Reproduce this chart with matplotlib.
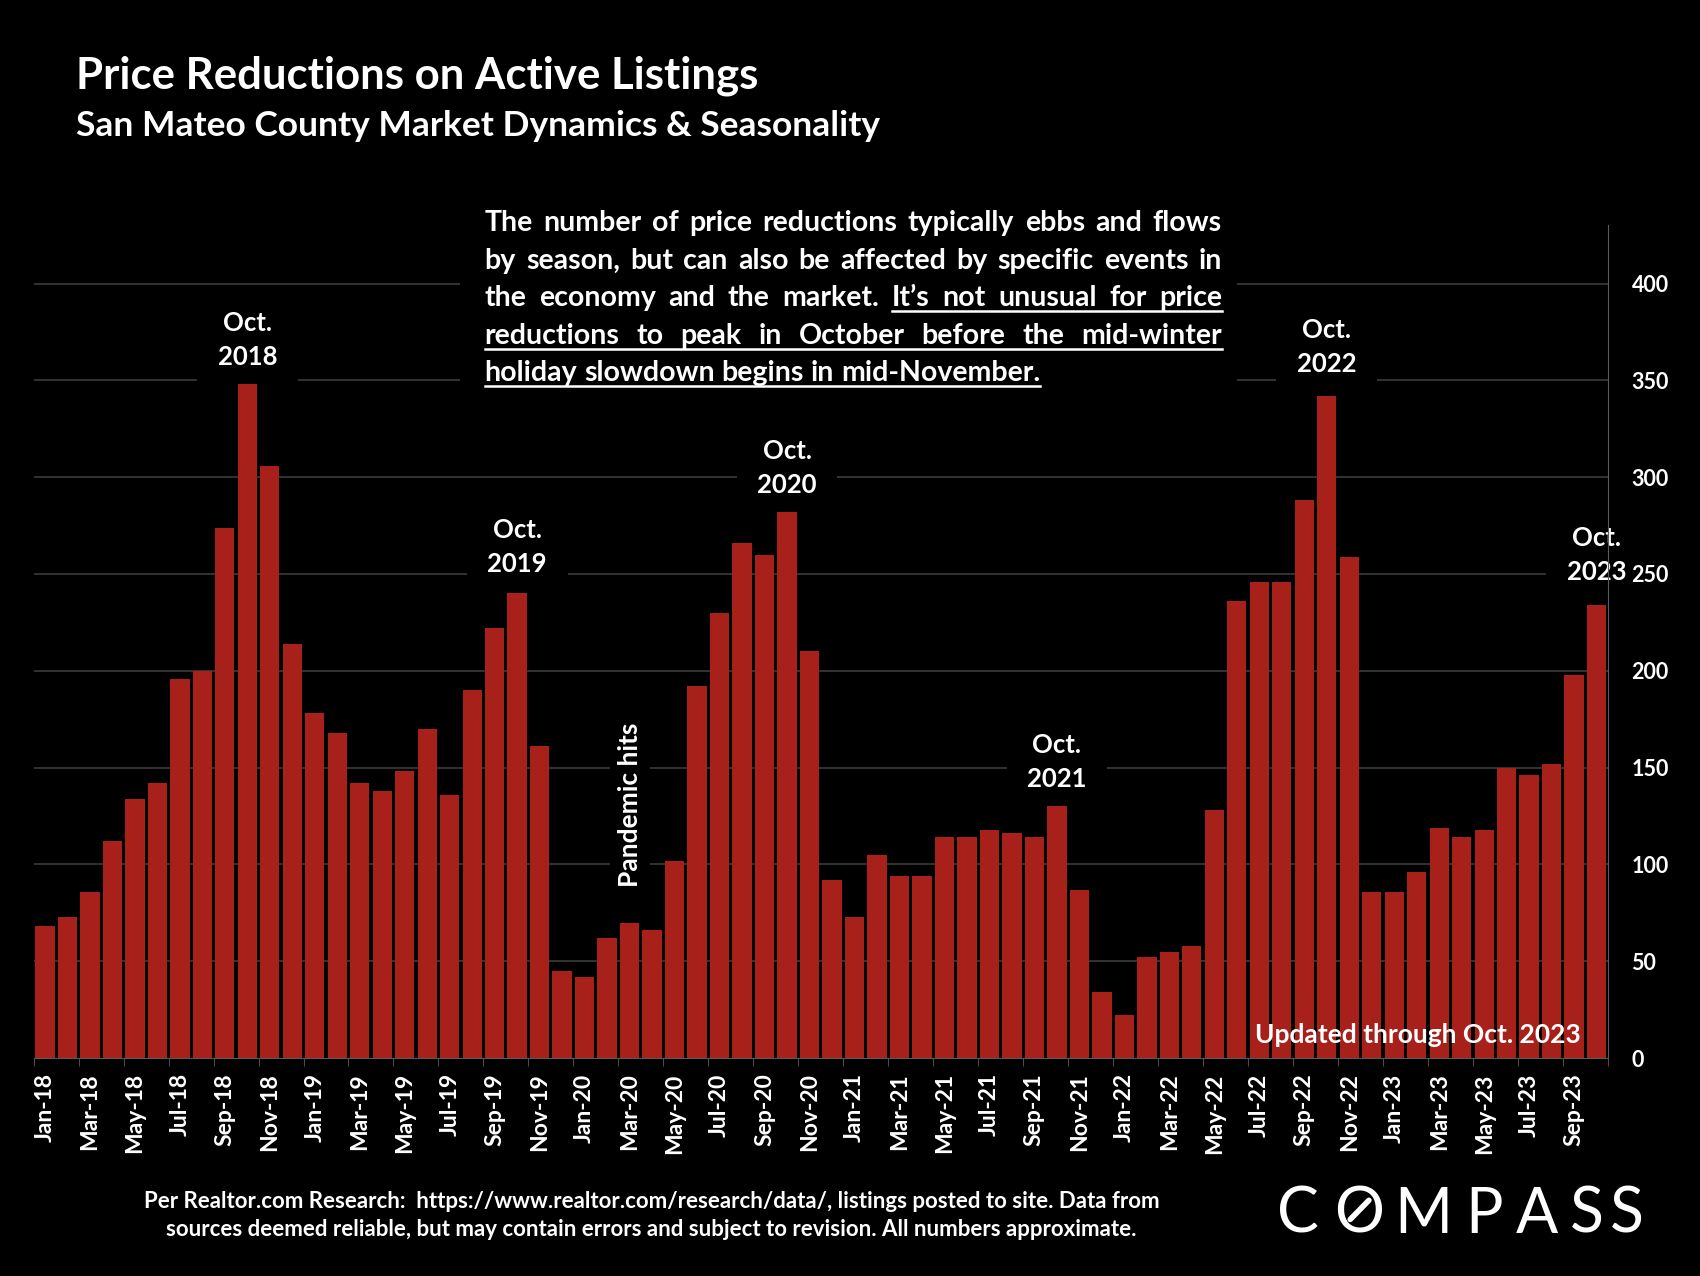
import matplotlib
matplotlib.use('Agg')
import matplotlib.pyplot as plt
from matplotlib.lines import Line2D
from matplotlib.patches import Rectangle

FONT = ['Lato', 'DejaVu Sans']
plt.rcParams['font.family'] = FONT

# monthly price reductions, Jan-18 .. Oct-23
months = []
for yr in range(18, 24):
    for mo in ['Jan', 'Feb', 'Mar', 'Apr', 'May', 'Jun',
               'Jul', 'Aug', 'Sep', 'Oct', 'Nov', 'Dec']:
        months.append(f'{mo}-{yr}')
months = months[:70]

values = [68, 73, 86, 112, 134, 142, 196, 200, 274, 348, 306, 214,
          178, 168, 142, 138, 148, 170, 136, 190, 222, 240, 161, 45,
          42, 62, 70, 66, 102, 192, 230, 266, 260, 282, 210, 92,
          73, 105, 94, 94, 114, 114, 118, 116, 114, 130, 87, 34,
          22, 52, 55, 58, 128, 236, 246, 246, 288, 342, 259, 86,
          86, 96, 119, 114, 118, 150, 146, 152, 198, 234]

# peak labels: (month, label y)
peak_months = ['Oct-18', 'Oct-19', 'Oct-20', 'Oct-21', 'Oct-22', 'Oct-23']
peak_label_y = [371, 264, 305, 153, 367, 260]

yticks = [0, 50, 100, 150, 200, 250, 300, 350, 400]

BAR = '#A8201A'
GRID = '#3c3c3c'
SPINE = '#5a5a5a'

W, H = 1700, 1276
fig = plt.figure(figsize=(W / 100, H / 100), dpi=100, facecolor='black')
ax = fig.add_axes([0.0198, 0.1708, 0.9458 - 0.0198, 0.8233 - 0.1708])
ax.set_facecolor('black')

x = list(range(len(values)))
ax.bar(x, values, width=0.86, color=BAR, zorder=2)

ax.set_xlim(-0.5, len(values) - 0.5)
ax.set_ylim(0, 430)

for yv in yticks[1:]:
    ax.axhline(yv, color=GRID, lw=1.2, zorder=0)

for s in ['top', 'left']:
    ax.spines[s].set_visible(False)
ax.spines['right'].set_color(SPINE)
ax.spines['bottom'].set_color(SPINE)

ax.yaxis.tick_right()
ax.set_yticks(yticks)
ax.set_yticklabels([str(v) for v in yticks], color='white', fontsize=15.5,
                   fontweight='bold')
ax.tick_params(axis='y', length=0, pad=17)

ax.set_xticks(x[::2])
ax.set_xticklabels(months[::2], rotation=90, color='white', fontsize=16.5,
                   fontweight='bold')
ax.set_xticks([i - 0.5 for i in x[::2]] + [len(values) - 0.5], minor=True)
ax.tick_params(axis='x', which='major', length=0, pad=11)
ax.tick_params(axis='x', which='minor', length=6, color=SPINE)

for m, ly in zip(peak_months, peak_label_y):
    i = months.index(m)
    mo, yr = m.split('-')
    ax.text(i, ly, f'{mo}.\n20{yr}', ha='center', va='center', color='white',
            fontsize=18.5, fontweight='bold', linespacing=1.5, zorder=1,
            bbox=dict(boxstyle='square,pad=0.8', fc='black', ec='none'))

ax.text(months.index('Mar-20'), 131, 'Pandemic hits', rotation=90,
        ha='center', va='center', color='white', fontsize=19,
        fontweight='bold', zorder=1,
        bbox=dict(boxstyle='square,pad=0.3', fc='black', ec='none'))

ax.text(0.983, 0.028, 'Updated through Oct. 2023', transform=ax.transAxes,
        ha='right', va='center', color='white', fontsize=19,
        fontweight='bold', zorder=3)

# titles
fig.text(70 / 1568, 1 - 82 / 1177, 'Price Reductions on Active Listings',
         color='white', fontsize=31.5, fontweight='bold', va='baseline')
fig.text(70 / 1568, 1 - 125 / 1177,
         'San Mateo County Market Dynamics & Seasonality',
         color='white', fontsize=25.5, fontweight='bold', va='baseline')

# justified paragraph
para = ['The number of price reductions typically ebbs and flows',
        'by season, but can also be affected by specific events in',
        'the economy and the market. It\u2019s not unusual for price',
        'reductions to peak in October before the mid-winter',
        'holiday slowdown begins in mid-November.']
underline_from = [None, None, 5, 0, 0]
para_base = [213, 248, 282, 317, 351]
PX0 = 447 / 1568 * W
PX1 = 1127 / 1568 * W
PFS = 20.5

fig.patches.append(Rectangle((PX0 - 25, H - 365 / 1177 * H), PX1 - PX0 + 40,
                             175 / 1177 * H, transform=None, fc='black',
                             ec='none', zorder=1))
fig.canvas.draw()
rend = fig.canvas.get_renderer()


def width_of(s):
    t = fig.text(0, 0, s, fontsize=PFS, fontweight='bold')
    w = t.get_window_extent(rend).width
    t.remove()
    return w


space_w = width_of('a a') - width_of('aa')
for li, line in enumerate(para):
    words = line.split(' ')
    widths = [width_of(w) for w in words]
    if li < len(para) - 1:
        gap = (PX1 - PX0 - sum(widths)) / (len(words) - 1)
    else:
        gap = space_w
    yb = 1 - para_base[li] / 1177
    xp = PX0
    starts = []
    for w, ww in zip(words, widths):
        fig.text(xp / W, yb, w, fontsize=PFS, fontweight='bold',
                 color='white', va='baseline', zorder=2)
        starts.append(xp)
        xp += ww + gap
    if underline_from[li] is not None:
        u0 = starts[underline_from[li]]
        u1 = xp - gap
        uy = yb - 5 / H
        fig.lines.append(Line2D([u0 / W, u1 / W], [uy, uy],
                                transform=fig.transFigure, color='white',
                                lw=1.8, zorder=2))

# footer
fig.text(601 / 1568, 1 - 1114 / 1177,
         'Per Realtor.com Research:  https://www.realtor.com/research/data/, '
         'listings posted to site. Data from',
         ha='center', va='baseline', color='white', fontsize=16,
         fontweight='bold')
fig.text(601 / 1568, 1 - 1140 / 1177,
         'sources deemed reliable, but may contain errors and subject to '
         'revision. All numbers approximate.',
         ha='center', va='baseline', color='white', fontsize=16,
         fontweight='bold')

# logo
logo_x = [1197, 1254, 1313, 1369, 1418, 1464, 1501]
for ch, lx in zip('COMPASS', logo_x):
    fig.text(lx / 1568, 1 - 1137 / 1177, ch, ha='center', va='baseline',
             color='white', fontsize=45, fontweight='normal')
ocx, ocy = 1254 / 1568, 1 - 1116 / 1177
fig.lines.append(Line2D([ocx - 0.0055, ocx + 0.0055],
                        [ocy - 0.0075, ocy + 0.0075],
                        transform=fig.transFigure, color='white', lw=4,
                        solid_capstyle='round'))

fig.savefig('out.png', dpi=100, facecolor='black')
